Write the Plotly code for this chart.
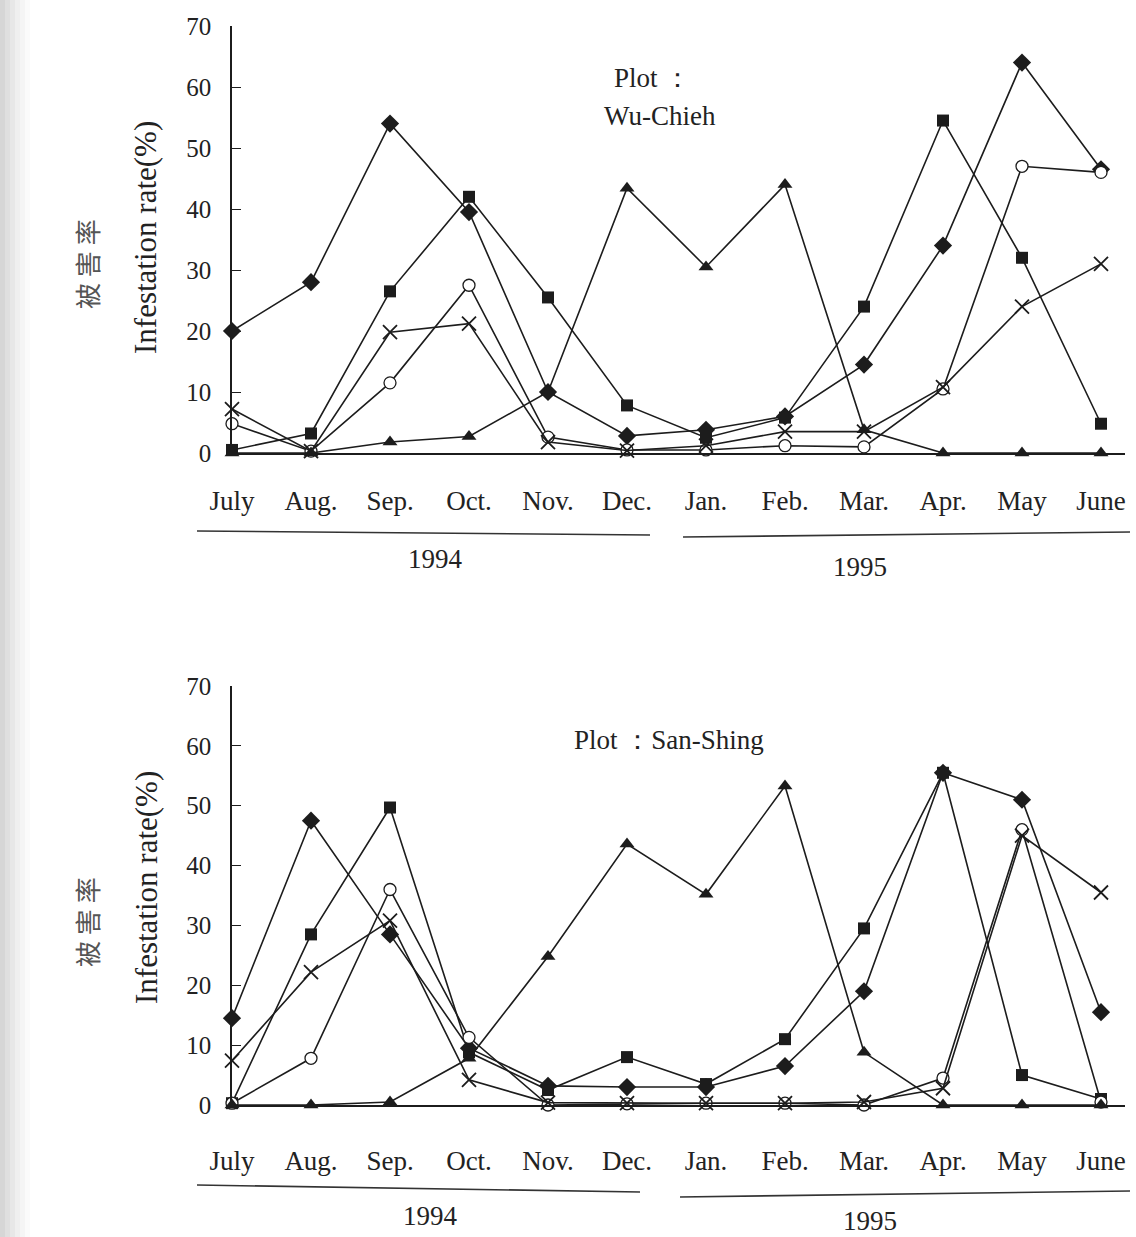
import plotly.graph_objects as go

# ---------------- data ----------------
months = ["July", "Aug.", "Sep.", "Oct.", "Nov.", "Dec.",
          "Jan.", "Feb.", "Mar.", "Apr.", "May", "June"]

# Plot: Wu-Chieh (top panel)
wu_diamond = [20, 28, 54, 39.5, 10, 2.8, 3.8, 6, 14.5, 34, 64, 46.5]
wu_square = [0.5, 3.2, 26.5, 42, 25.5, 7.8, 2.5, 5.8, 24, 54.5, 32, 4.8]
wu_circle = [4.8, 0.3, 11.5, 27.5, 2.6, 0.5, 0.5, 1.2, 1, 10.5, 47, 46]
wu_cross = [7.2, 0.3, 19.8, 21.2, 1.8, 0.4, 1.2, 3.5, 3.5, 10.8, 24, 31]
wu_triangle = [0, 0, 1.8, 2.7, 10, 43.4, 30.5, 44, 3.8, 0, 0, 0]

# Plot: San-Shing (bottom panel)
ss_diamond = [14.5, 47.5, 28.5, 9.5, 3.2, 3, 3, 6.5, 19, 55.5, 51, 15.5]
ss_square = [0.3, 28.5, 49.7, 8.8, 2.5, 8, 3.5, 11, 29.5, 55.5, 5, 1]
ss_circle = [0.3, 7.8, 36, 11.3, 0, 0.2, 0.3, 0.3, 0, 4.5, 46, 0.5]
ss_cross = [7.4, 22.2, 30.8, 4.2, 0.4, 0.3, 0.3, 0.3, 0.5, 2.8, 45, 35.5]
ss_triangle = [0, 0, 0.5, 7.8, 24.8, 43.6, 35.2, 53.3, 8.8, 0, 0, 0]

y_ticks = [0, 10, 20, 30, 40, 50, 60, 70]
years = ["1994", "1995"]

# ---------------- layout geometry ----------------
W, H = 1136, 1237
ML, MR, MT, MB = 232, 11, 26, 132
PW = W - ML - MR
PH = H - MT - MB


def px2x(px):
    return (px - ML) / PW


def py2y(py):
    return (H - MB - py) / PH


SERIF = "Liberation Serif, Times New Roman, serif"
INK = "#1c1c1c"

styles = [
    ("diamond", dict(symbol="diamond", size=14, color=INK)),
    ("square", dict(symbol="square", size=12, color=INK)),
    ("circle", dict(symbol="circle", size=12, color="white",
                    line=dict(color=INK, width=1.3))),
    ("cross", dict(symbol="x-thin", size=14, color=INK,
                   line=dict(color=INK, width=1.8))),
    ("triangle", dict(symbol="triangle-up", size=13, color=INK)),
]

fig = go.Figure()

panels = [
    ("x", "y", [wu_diamond, wu_square, wu_circle, wu_cross, wu_triangle]),
    ("x2", "y2", [ss_diamond, ss_square, ss_circle, ss_cross, ss_triangle]),
]
for xa, ya, series in panels:
    for (name, mk), vals in zip(styles, series):
        fig.add_trace(go.Scatter(
            x=months, y=vals, mode="lines+markers", name=name,
            xaxis=xa, yaxis=ya, cliponaxis=False,
            line=dict(color=INK, width=1.6),
            marker=mk, showlegend=False,
        ))

xrange_ = [0, PW / 79.0]
axis_font = dict(family=SERIF, size=25, color="#222")

common_x = dict(
    type="category", range=xrange_, showline=True, linecolor=INK,
    linewidth=1.6, showgrid=False, zeroline=False, ticks="",
    tickfont=dict(family=SERIF, size=27, color="#222"),
)
common_y = dict(
    range=[0, 70], tickvals=y_ticks, showline=True, linecolor=INK,
    linewidth=1.6, showgrid=False, zeroline=False, ticks="inside",
    ticklen=9, tickcolor=INK, tickwidth=1.2, tickfont=axis_font,
    ticklabelstandoff=14,
)

top_dom = [py2y(453), py2y(26)]
bot_dom = [py2y(1105), py2y(686)]

fig.update_layout(
    width=W, height=H,
    margin=dict(l=ML, r=MR, t=MT, b=MB),
    paper_bgcolor="white", plot_bgcolor="white",
    xaxis=dict(common_x, anchor="y", domain=[0, 1], ticklabelstandoff=23),
    yaxis=dict(common_y, anchor="x", domain=top_dom),
    xaxis2=dict(common_x, anchor="y2", domain=[0, 1], ticklabelstandoff=31),
    yaxis2=dict(common_y, anchor="x2", domain=bot_dom),
)

ann = []


def text(s, px, py, size=27, angle=0, xanchor="center", color="#222", family=SERIF):
    ann.append(dict(text=s, x=px2x(px), y=py2y(py), xref="paper", yref="paper",
                    showarrow=False, textangle=angle, xanchor=xanchor,
                    yanchor="middle", font=dict(family=family, size=size, color=color)))


# panel titles
text("Plot ：", 612, 78, xanchor="left")
text("Wu-Chieh", 602, 116, xanchor="left")
text("Plot ：San-Shing", 572, 740, xanchor="left")

# y-axis titles
for cy_en, cy_zh in [(238, 264), (888, 922)]:
    text("Infestation rate(%)", 146, cy_en, size=31, angle=-90)
    text("被 害 率", 86, cy_zh, size=26, angle=-90, color="#555",
         family="Noto Sans CJK TC, Noto Sans CJK SC, sans-serif")

# year labels
text(years[0], 435, 559, size=27)
text(years[1], 860, 567, size=27)
text(years[0], 430, 1216, size=27)
text(years[1], 870, 1221, size=27)

shapes = []


def seg(x0, y0, x1, y1):
    shapes.append(dict(type="line", xref="paper", yref="paper",
                       x0=px2x(x0), y0=py2y(y0), x1=px2x(x1), y1=py2y(y1),
                       line=dict(color="#333", width=1.6)))


seg(197, 531, 650, 535)
seg(683, 537, 1130, 532)
seg(197, 1185, 640, 1192)
seg(680, 1197, 1130, 1191)

# scanned-page shading on the left edge
for i, g in enumerate([0.30, 0.24, 0.18, 0.12, 0.07, 0.03]):
    shapes.append(dict(type="rect", xref="paper", yref="paper", layer="below",
                       x0=px2x(i * 5), x1=px2x(i * 5 + 5), y0=py2y(H), y1=py2y(0),
                       fillcolor=f"rgba(120,120,120,{g})", line=dict(width=0)))

fig.update_layout(annotations=ann, shapes=shapes)

fig.write_html("out.html",
               config={"displayModeBar": False},
               post_script="document.body.style.margin='0px';"
                           "document.body.style.overflow='hidden';")
